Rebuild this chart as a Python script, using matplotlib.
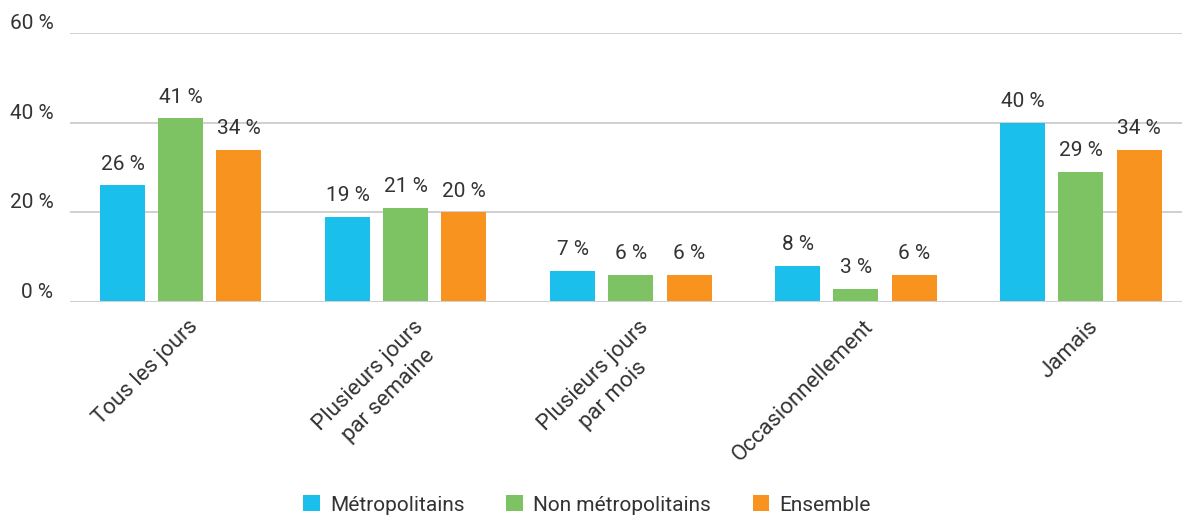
import matplotlib
matplotlib.use("Agg")
import matplotlib.pyplot as plt
import numpy as np

categories = ["Tous les jours", "Plusieurs jours\npar semaine", "Plusieurs jours\npar mois",
              "Occasionnellement", "Jamais"]
series_names = ["Métropolitains", "Non métropolitains", "Ensemble"]
metro = [26, 19, 7, 8, 40]
non_metro = [41, 21, 6, 3, 29]
ensemble = [34, 20, 6, 6, 34]
colors = ["#1ABFEB", "#7DC263", "#F7931E"]
yticks = [0, 20, 40, 60]

plt.rcParams['font.family'] = ['Roboto', 'DejaVu Sans']
txt = "#333333"
fs = 15

fig = plt.figure(figsize=(11.82, 5.16), dpi=100)
ax = fig.add_axes([70/1182, 1-302/516, (1182-70)/1182, (302-33)/516])

x = np.arange(len(categories))
w = 0.2
off = 0.258
for i, (vals, c, name) in enumerate(zip([metro, non_metro, ensemble], colors, series_names)):
    pos = x + (i-1)*off
    ax.bar(pos, vals, width=w, color=c, label=name, zorder=3)
    for p, v in zip(pos, vals):
        ax.text(p, v + 2.6, f"{v} %", ha="center", va="bottom", fontsize=fs, color=txt)

ax.set_xlim(-0.493, 4.449)
ax.set_ylim(0, 60)
ax.set_yticks(yticks)
ax.set_yticklabels([f"{t} %" for t in yticks], fontsize=fs, color=txt)
for t in yticks:
    ax.axhline(t, color="#d0d0d0", lw=1.4 if t else 2.2, zorder=1 if t else 4)
for s in ax.spines.values():
    s.set_visible(False)
ax.tick_params(axis="y", length=0, pad=12)
ax.tick_params(axis="x", length=0, pad=10)
for lab in ax.yaxis.get_ticklabels():
    lab.set_verticalalignment("bottom")
ax.set_xticks(x + 0.03)
ax.set_xticklabels(categories, rotation=45, ha="right", rotation_mode="anchor",
                   multialignment="center", fontsize=16, color=txt, linespacing=1.45)

handles, labels = ax.get_legend_handles_labels()
leg = fig.legend(handles, labels, loc="center", bbox_to_anchor=(587/1182, 1-505/516), ncol=3,
                 frameon=False, fontsize=fs, handlelength=0.8, handleheight=0.8,
                 columnspacing=2.0, handletextpad=0.5)
for t in leg.get_texts():
    t.set_color(txt)

fig.savefig("out.png", dpi=100)
